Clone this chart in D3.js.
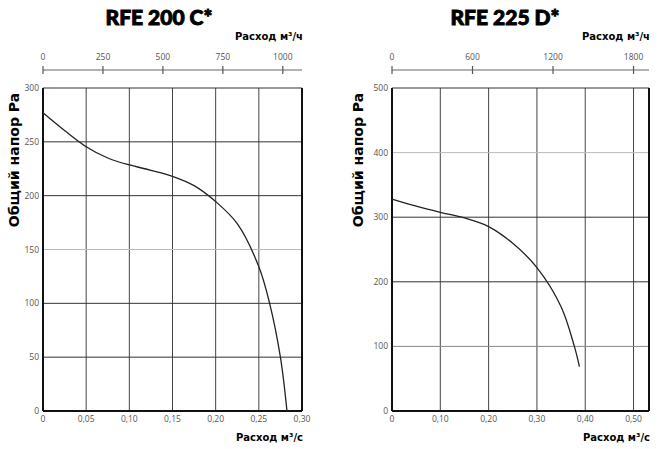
<!doctype html>
<html>
  <head>
    <meta charset="utf-8"/>
    <title>RFE 200 C* / RFE 225 D*</title>
    <style>
      body, html {
        margin: 0;
        padding: 0;
        background: #fff;
      }
      .title { font-family: "Lato"; font-weight: 900; font-size: 21px; fill: #000; stroke: #000; stroke-width: 0.9px; }
      .axis-title { font-family: "DejaVu Sans"; font-weight: bold; fill: #000; }
      .tick-label { font-family: "Open Sans"; font-size: 8.5px; fill: #555; }
    </style>
    <script src="https://d3js.org/d3.v7.min.js"></script>
  </head>
  <body>
    <svg id="chart" width="660" height="449"></svg>

    <script>
      // RFE 200 C*  (flow m3/s, total pressure Pa)
      var leftFlow     = [0, 0.025, 0.05, 0.075, 0.10, 0.125, 0.15, 0.175, 0.20, 0.225, 0.25, 0.2625, 0.275, 0.2826];
      var leftPressure = [277, 260.5, 245.5, 235, 228.5, 223.6, 218, 209.3, 194.5, 174, 134, 100, 50, 0];
      var leftFlowTicks  = [0, 0.05, 0.10, 0.15, 0.20, 0.25, 0.30];
      var leftHourTicks  = [0, 250, 500, 750, 1000];
      var leftPressTicks = [0, 50, 100, 150, 200, 250, 300];

      // RFE 225 D*
      var rightFlow     = [0, 0.05, 0.10, 0.15, 0.20, 0.25, 0.30, 0.35, 0.3775, 0.388];
      var rightPressure = [328, 317, 307.5, 298.8, 285.5, 259.6, 222, 161.5, 100, 68.6];
      var rightFlowTicks  = [0, 0.10, 0.20, 0.30, 0.40, 0.50];
      var rightHourTicks  = [0, 600, 1200, 1800];
      var rightPressTicks = [0, 100, 200, 300, 400, 500];

      var svg = d3.select("#chart");
      var comma = function(d) { return d === 0 ? "0" : d3.format(".2f")(d).replace(".", ","); };

      function drawChart(opt) {
        var x = d3.scaleLinear().domain([0, opt.maxFlow]).range([opt.left, opt.right]);
        var xh = d3.scaleLinear().domain([0, opt.maxFlow * 3600]).range([opt.left, opt.right]);
        var y = d3.scaleLinear().domain([0, opt.maxPress]).range([opt.bottom, opt.top]);
        var g = svg.append("g");

        g.append("text").attr("class", "title")
          .attr("x", opt.titleX).attr("y", 25)
          .attr("text-anchor", "middle").text(opt.title);

        // top axis in m3/h
        g.append("text").attr("class", "axis-title").style("font-size", "10px")
          .attr("x", opt.right + 1).attr("y", 40)
          .attr("text-anchor", "end").text("Расход м³/ч");
        g.append("line")
          .attr("x1", opt.left).attr("x2", opt.right)
          .attr("y1", 70).attr("y2", 70)
          .attr("stroke", "#666").attr("stroke-width", 1.2);
        g.selectAll(".htick").data(opt.hourTicks).enter().append("line")
          .attr("x1", function(d) { return xh(d); }).attr("x2", function(d) { return xh(d); })
          .attr("y1", 66).attr("y2", 74)
          .attr("stroke", "#555").attr("stroke-width", 1.2);
        g.selectAll(".hlabel").data(opt.hourTicks).enter().append("text")
          .attr("class", "tick-label")
          .attr("x", function(d) { return xh(d); }).attr("y", 60)
          .attr("text-anchor", "middle").text(function(d) { return d; });

        // grid
        g.selectAll(".vgrid").data(opt.flowTicks.filter(function(d) { return d > 0 && x(d) < opt.right - 1; }))
          .enter().append("line")
          .attr("x1", function(d) { return x(d); }).attr("x2", function(d) { return x(d); })
          .attr("y1", opt.top).attr("y2", opt.bottom)
          .attr("stroke", "#444").attr("stroke-width", 1);
        g.selectAll(".hgrid").data(opt.pressTicks.filter(function(d) { return d > 0 && d < opt.maxPress; }))
          .enter().append("line")
          .attr("x1", opt.left).attr("x2", opt.right)
          .attr("y1", function(d) { return y(d); }).attr("y2", function(d) { return y(d); })
          .attr("stroke", function(d) { return opt.lightGrid.indexOf(d) >= 0 ? "#bbb" : (opt.midGrid.indexOf(d) >= 0 ? "#888" : "#333"); })
          .attr("stroke-width", 1);

        // frame
        g.append("line").attr("x1", opt.left).attr("x2", opt.right).attr("y1", opt.top).attr("y2", opt.top)
          .attr("stroke", "#333").attr("stroke-width", 1);
        g.append("line").attr("x1", opt.left).attr("x2", opt.left).attr("y1", opt.top).attr("y2", opt.bottom)
          .attr("stroke", "#111").attr("stroke-width", 2);
        g.append("line").attr("x1", opt.right).attr("x2", opt.right).attr("y1", opt.top).attr("y2", opt.bottom)
          .attr("stroke", "#111").attr("stroke-width", 2);
        g.append("line").attr("x1", opt.left).attr("x2", opt.right).attr("y1", opt.bottom).attr("y2", opt.bottom)
          .attr("stroke", "#111").attr("stroke-width", 2);

        // tick labels
        g.selectAll(".xlabel").data(opt.flowTicks).enter().append("text")
          .attr("class", "tick-label")
          .attr("x", function(d) { return x(d); }).attr("y", 422)
          .attr("text-anchor", "middle").text(comma);
        g.selectAll(".ylabel").data(opt.pressTicks).enter().append("text")
          .attr("class", "tick-label")
          .attr("x", opt.left - 4).attr("y", function(d) { return y(d) + 3; })
          .attr("text-anchor", "end").text(function(d) { return d; });

        g.append("text").attr("class", "axis-title").style("font-size", "10px")
          .attr("x", opt.right + 1).attr("y", 441)
          .attr("text-anchor", "end").text("Расход м³/с");

        g.append("text").attr("class", "axis-title").style("font-size", "14px")
          .attr("transform", "translate(" + (opt.yTitleX) + ",160) rotate(-90)")
          .attr("text-anchor", "middle").text("Общий напор Pa");

        // curve
        var pts = opt.flow.map(function(q, i) { return [q, opt.pressure[i]]; });
        var line = d3.line()
          .x(function(d) { return x(d[0]); })
          .y(function(d) { return y(d[1]); })
          .curve(d3.curveCatmullRom.alpha(0.5));
        g.append("path").datum(pts)
          .attr("d", line)
          .attr("fill", "none")
          .attr("stroke", "#222")
          .attr("stroke-width", 1.3);
      }

      drawChart({
        title: "RFE 200 C*", titleX: 159, yTitleX: 19,
        left: 43, right: 302, top: 88, bottom: 411,
        maxFlow: 0.30, maxPress: 300,
        flow: leftFlow, pressure: leftPressure,
        flowTicks: leftFlowTicks, hourTicks: leftHourTicks, pressTicks: leftPressTicks,
        lightGrid: [150], midGrid: []
      });

      drawChart({
        title: "RFE 225 D*", titleX: 505, yTitleX: 363,
        left: 392, right: 649, top: 88, bottom: 411,
        maxFlow: 0.532, maxPress: 500,
        flow: rightFlow, pressure: rightPressure,
        flowTicks: rightFlowTicks, hourTicks: rightHourTicks, pressTicks: rightPressTicks,
        lightGrid: [400], midGrid: [100]
      });
    </script>
  </body>
</html>
